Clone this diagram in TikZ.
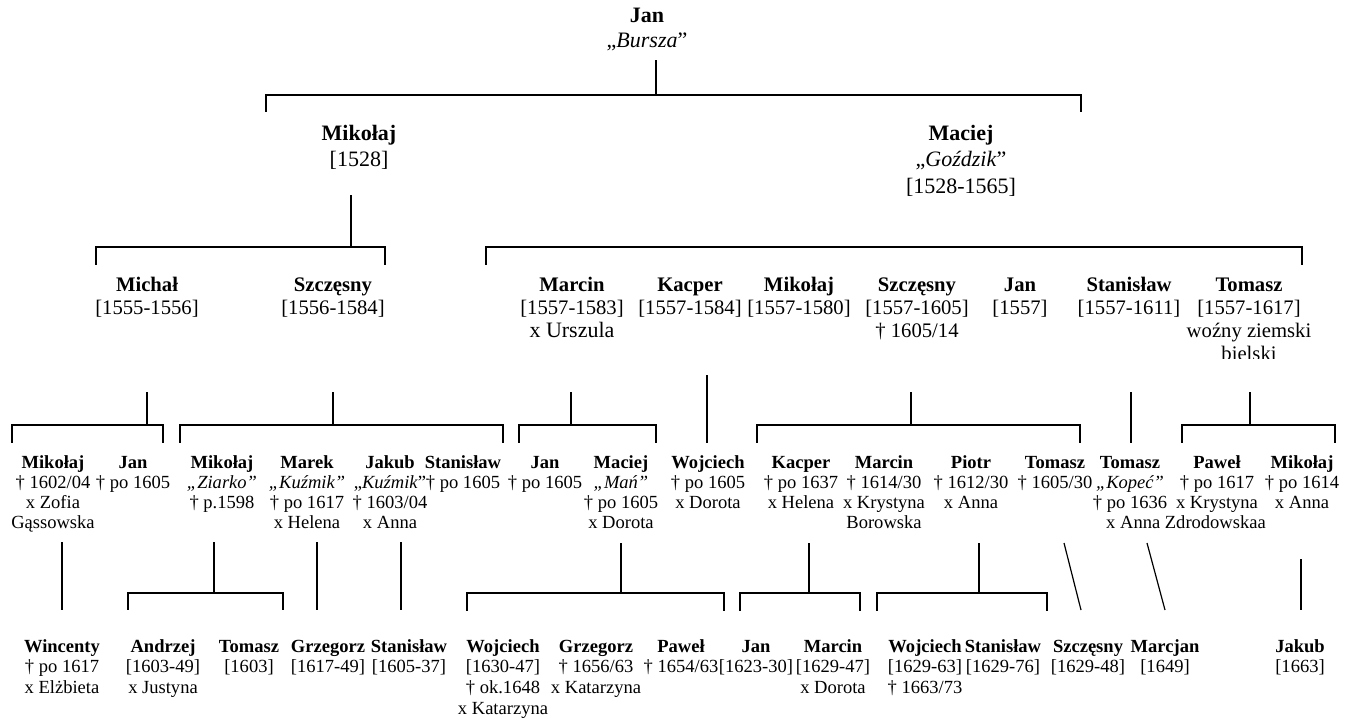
\documentclass[tikz,border=0pt]{standalone}
\usepackage{fontspec}
\setmainfont{Liberation Serif}
\newcommand\pp[1]{\begin{tabular}[t]{@{}c@{}}#1\end{tabular}}
\newcommand\nm[1]{\textbf{#1}}
\newcommand\fsTop{\fontsize{16.5}{18.75}\selectfont}
\newcommand\fsA{\fontsize{16.5}{19.9}\selectfont}
\newcommand\fsB{\fontsize{15.5}{17.25}\selectfont}
\newcommand\fsC{\fontsize{13.9}{15}\selectfont}
\newcommand\fsD{\fontsize{13.9}{15.6}\selectfont}
\tikzset{
  ln/.style={line width=0.9pt, black},
  ptop/.style={anchor=base, inner sep=0pt, font=\fsTop},
  pa/.style={anchor=base, inner sep=0pt, font=\fsA},
  pb/.style={anchor=base, inner sep=0pt, font=\fsB},
  pc/.style={anchor=base, inner sep=0pt, font=\fsC},
  pd/.style={anchor=base, inner sep=0pt, font=\fsD},
}
\begin{document}
\begin{tikzpicture}[x=0.75pt,y=-0.75pt]
\useasboundingbox (0,0) rectangle (1348,721);

% ---------- generation 0 and 1
\node[ptop] (jan0) at (647,22) {\pp{\nm{Jan}\\„\textit{Bursza}”}};
\node[pa] (mik1) at (359,140) {\pp{\nm{Mikołaj}\\{[1528]}}};
\node[pa] (mac1) at (961,140) {\pp{\nm{Maciej}\\„\textit{Goździk}”\\{[1528-1565]}}};

% ---------- generation 2
\node[pb] (mic2) at (147,291) {\pp{\nm{Michał}\\{[1555-1556]}}};
\node[pb] (szc2) at (333,291) {\pp{\nm{Szczęsny}\\{[1556-1584]}}};
\node[pb] (mar2) at (572,291) {\pp{\nm{Marcin}\\{[1557-1583]}\\{\fontsize{16.5}{17}\selectfont x Urszula}}};
\node[pb] (kac2) at (690,291) {\pp{\nm{Kacper}\\{[1557-1584]}}};
\node[pb] (mik2) at (799,291) {\pp{\nm{Mikołaj}\\{[1557-1580]}}};
\node[pb] (szc2r) at (917,291) {\pp{\nm{Szczęsny}\\{[1557-1605]}\\† 1605/14}};
\node[pb] (jan2) at (1020,291) {\pp{\nm{Jan}\\{[1557]}}};
\node[pb] (sta2) at (1129,291) {\pp{\nm{Stanisław}\\{[1557-1611]}}};
\begin{scope}
\clip (1150,250) rectangle (1348,358);
\node[pb] (tom2) at (1249,291) {\pp{\nm{Tomasz}\\{[1557-1617]}\\woźny ziemski\\bielski}};
\end{scope}

% ---------- generation 3
\node[pc] (mik3) at (53,468) {\pp{\nm{Mikołaj}\\† 1602/04\\x Zofia\\Gąssowska}};
\node[pc] (jan3) at (133,468) {\pp{\nm{Jan}\\† po 1605}};
\node[pc] (zia3) at (222,468) {\pp{\nm{Mikołaj}\\\textit{„Ziarko”}\\† p.1598}};
\node[pc] (mar3) at (307,468) {\pp{\nm{Marek}\\\textit{„Kuźmik”}\\† po 1617\\x Helena}};
\node[pc] (jak3) at (390,468) {\pp{\nm{Jakub}\\„\textit{Kuźmik}”\\† 1603/04\\x Anna}};
\node[pc] (sta3) at (463,468) {\pp{\nm{Stanisław}\\† po 1605}};
\node[pc] (jan3b) at (545,468) {\pp{\nm{Jan}\\† po 1605}};
\node[pc] (mac3) at (621,468) {\pp{\nm{Maciej}\\\textit{„Mań”}\\† po 1605\\x Dorota}};
\node[pc] (woj3) at (708,468) {\pp{\nm{Wojciech}\\† po 1605\\x Dorota}};
\node[pc] (kac3) at (801,468) {\pp{\nm{Kacper}\\† po 1637\\x Helena}};
\node[pc] (mar3b) at (884,468) {\pp{\nm{Marcin}\\† 1614/30\\x Krystyna\\Borowska}};
\node[pc] (pio3) at (971,468) {\pp{\nm{Piotr}\\† 1612/30\\x Anna}};
\node[pc] (tom3) at (1055,468) {\pp{\nm{Tomasz}\\† 1605/30}};
\node[pc] (kop3) at (1130,468) {\pp{\nm{Tomasz}\\\textit{„Kopeć”}\\† po 1636}};
\node[pc] (kopw) at (1186,528) {x Anna Zdrodowskaa};
\node[pc] (paw3) at (1217,468) {\pp{\nm{Paweł}\\† po 1617\\x Krystyna}};
\node[pc] (mik3b) at (1302,468) {\pp{\nm{Mikołaj}\\† po 1614\\x Anna}};

% ---------- generation 4
\node[pd] (win4) at (62,652) {\pp{\nm{Wincenty}\\† po 1617\\x Elżbieta}};
\node[pd] (and4) at (163,652) {\pp{\nm{Andrzej}\\{[1603-49]}\\x Justyna}};
\node[pd] (tom4) at (249,652) {\pp{\nm{Tomasz}\\{[1603]}}};
\node[pd] (grz4) at (328,652) {\pp{\nm{Grzegorz}\\{[1617-49]}}};
\node[pd] (sta4) at (409,652) {\pp{\nm{Stanisław}\\{[1605-37]}}};
\node[pd] (woj4) at (503,652) {\pp{\nm{Wojciech}\\{[1630-47]}\\† ok.1648\\x Katarzyna}};
\node[pd] (grz4b) at (596,652) {\pp{\nm{Grzegorz}\\† 1656/63\\x Katarzyna}};
\node[pd] (paw4) at (681,652) {\pp{\nm{Paweł}\\† 1654/63}};
\node[pd] (jan4) at (756,652) {\pp{\nm{Jan}\\{[1623-30]}}};
\node[pd] (mar4) at (833,652) {\pp{\nm{Marcin}\\{[1629-47]}\\x Dorota}};
\node[pd] (woj4b) at (925,652) {\pp{\nm{Wojciech}\\{[1629-63]}\\† 1663/73}};
\node[pd] (sta4b) at (1003,652) {\pp{\nm{Stanisław}\\{[1629-76]}}};
\node[pd] (szc4) at (1088,652) {\pp{\nm{Szczęsny}\\{[1629-48]}}};
\node[pd] (mrc4) at (1165,652) {\pp{\nm{Marcjan}\\{[1649]}}};
\node[pd] (jak4) at (1300,652) {\pp{\nm{Jakub}\\{[1663]}}};

% ---------- connector coordinates
\coordinate (jan0-out) at (656,60);  \coordinate (jan0-bar) at (656,95);
\coordinate (mik1-in) at (266,112);  \coordinate (mac1-in) at (1081,112);

\coordinate (mik1-out) at (351,195); \coordinate (mik1-bar) at (351,247);
\coordinate (mic2-in) at (96,265);   \coordinate (szc2-in) at (385,265);

\coordinate (mac1-bar) at (900,247);
\coordinate (mar2-in) at (486,265);  \coordinate (tom2-in) at (1302,265);

\coordinate (mic2-out) at (147,392); \coordinate (mic2-bar) at (147,425);
\coordinate (mik3-in) at (12,443);   \coordinate (jan3-in) at (163,443);

\coordinate (szc2-out) at (333,392); \coordinate (szc2-bar) at (333,425);
\coordinate (zia3-in) at (180,443);  \coordinate (sta3-in) at (503,443);

\coordinate (mar2-out) at (571,392); \coordinate (mar2-bar) at (571,425);
\coordinate (jan3b-in) at (519,443); \coordinate (mac3-in) at (656,443);

\coordinate (kac2-out) at (707,375); \coordinate (woj3-in) at (707,443);

\coordinate (szc2r-out) at (911,392); \coordinate (szc2r-bar) at (911,425);
\coordinate (kac3-in) at (757,443);  \coordinate (tom3-in) at (1080,443);

\coordinate (sta2-out) at (1131,392); \coordinate (kop3-in) at (1131,443);

\coordinate (tom2-out) at (1250,392); \coordinate (tom2-bar) at (1250,425);
\coordinate (paw3-in) at (1182,443); \coordinate (mik3b-in) at (1335,443);

\coordinate (mik3-out) at (62,542);  \coordinate (win4-in) at (62,610);

\coordinate (zia3-out) at (214,542); \coordinate (zia3-bar) at (214,593);
\coordinate (and4-in) at (128,610);  \coordinate (tom4-in) at (283,610);

\coordinate (mar3-out) at (317,542); \coordinate (grz4-in) at (317,610);
\coordinate (jak3-out) at (401,542); \coordinate (sta4-in) at (401,610);

\coordinate (mac3-out) at (621,543); \coordinate (mac3-bar) at (621,593);
\coordinate (woj4-in) at (467,611);  \coordinate (paw4-in) at (724,611);

\coordinate (kac3-out) at (809,543); \coordinate (kac3-bar) at (809,593);
\coordinate (jan4-in) at (740,611);  \coordinate (mar4-in) at (860,611);

\coordinate (pio3-out) at (979,543); \coordinate (pio3-bar) at (979,593);
\coordinate (woj4b-in) at (877,611); \coordinate (sta4b-in) at (1047,611);

\coordinate (tom3-out) at (1064,543); \coordinate (szc4-in) at (1081,610);
\coordinate (kop3-out) at (1147,543); \coordinate (mrc4-in) at (1165,610);
\coordinate (mik3b-out) at (1301,559); \coordinate (jak4-in) at (1301,610);

% ---------- connectors
\draw[ln] (jan0-out) -- (jan0-bar) -| (mik1-in);
\draw[ln] (jan0-bar) -| (mac1-in);

\draw[ln] (mik1-out) -- (mik1-bar) -| (mic2-in);
\draw[ln] (mik1-bar) -| (szc2-in);

\draw[ln] (mac1-bar) -| (mar2-in);
\draw[ln] (mac1-bar) -| (tom2-in);

\draw[ln] (mic2-out) -- (mic2-bar) -| (mik3-in);
\draw[ln] (mic2-bar) -| (jan3-in);

\draw[ln] (szc2-out) -- (szc2-bar) -| (zia3-in);
\draw[ln] (szc2-bar) -| (sta3-in);

\draw[ln] (mar2-out) -- (mar2-bar) -| (jan3b-in);
\draw[ln] (mar2-bar) -| (mac3-in);

\draw[ln] (kac2-out) -- (woj3-in);

\draw[ln] (szc2r-out) -- (szc2r-bar) -| (kac3-in);
\draw[ln] (szc2r-bar) -| (tom3-in);

\draw[ln] (sta2-out) -- (kop3-in);

\draw[ln] (tom2-out) -- (tom2-bar) -| (paw3-in);
\draw[ln] (tom2-bar) -| (mik3b-in);

\draw[ln] (mik3-out) -- (win4-in);

\draw[ln] (zia3-out) -- (zia3-bar) -| (and4-in);
\draw[ln] (zia3-bar) -| (tom4-in);

\draw[ln] (mar3-out) -- (grz4-in);
\draw[ln] (jak3-out) -- (sta4-in);

\draw[ln] (mac3-out) -- (mac3-bar) -| (woj4-in);
\draw[ln] (mac3-bar) -| (paw4-in);

\draw[ln] (kac3-out) -- (kac3-bar) -| (jan4-in);
\draw[ln] (kac3-bar) -| (mar4-in);

\draw[ln] (pio3-out) -- (pio3-bar) -| (woj4b-in);
\draw[ln] (pio3-bar) -| (sta4b-in);

\draw[ln] (tom3-out) -- (szc4-in);
\draw[ln] (kop3-out) -- (mrc4-in);
\draw[ln] (mik3b-out) -- (jak4-in);
\end{tikzpicture}
\end{document}
